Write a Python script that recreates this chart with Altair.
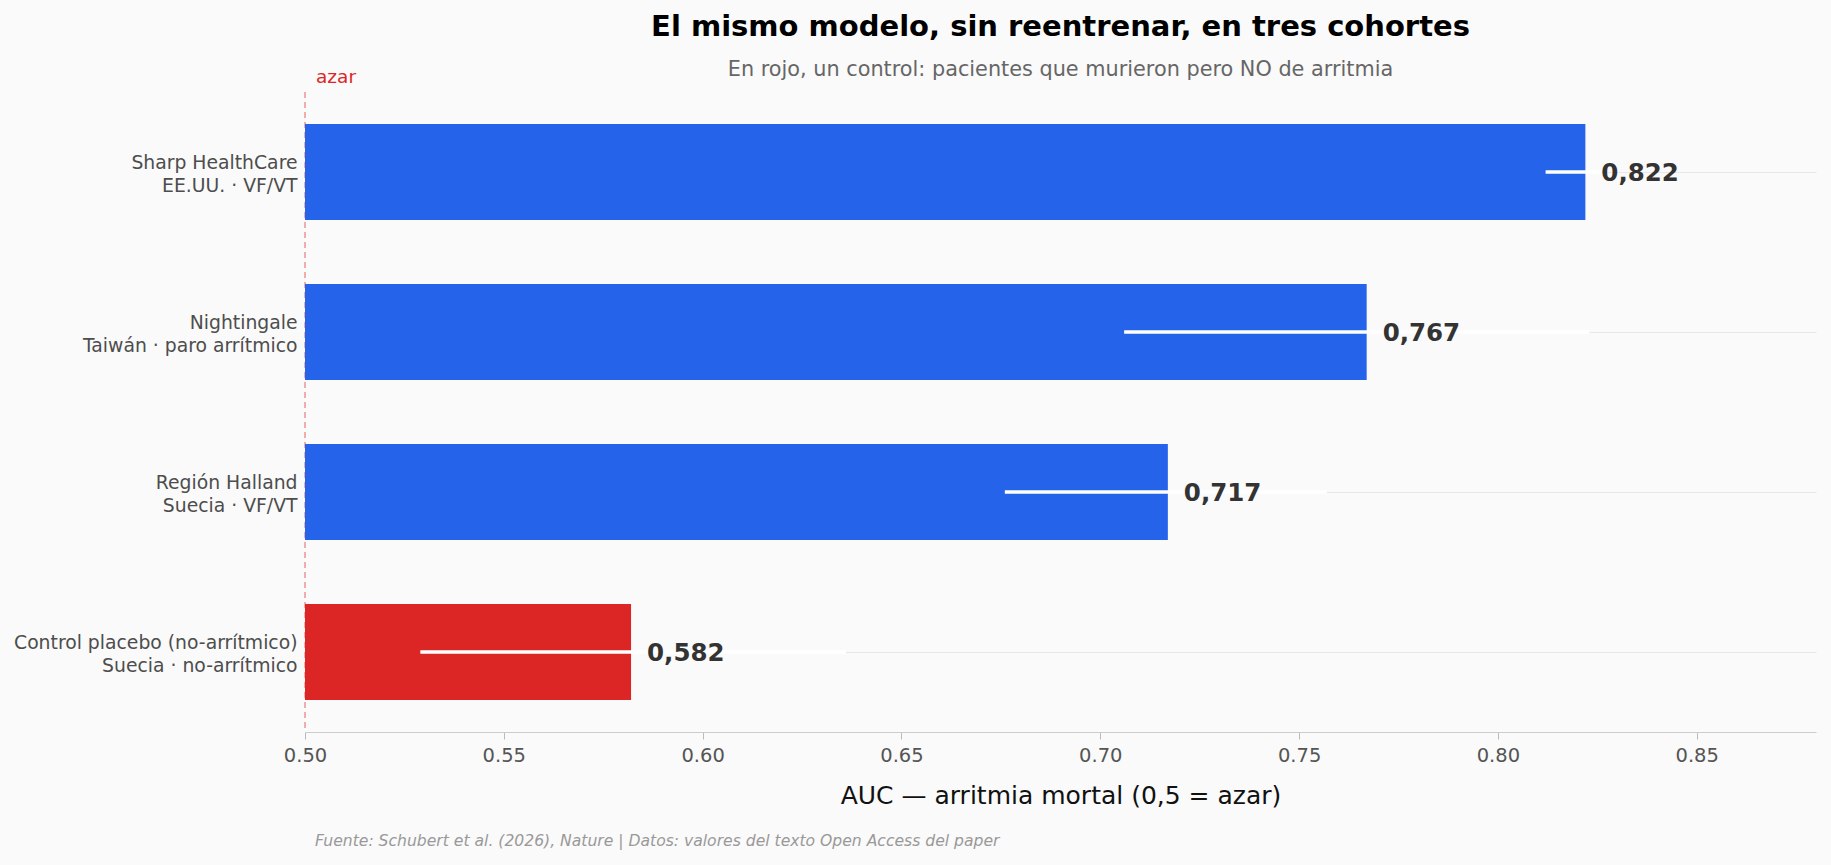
import altair as alt
import pandas as pd

# ---- datos ----
cohortes = [
    "Sharp HealthCare\nEE.UU. · VF/VT",
    "Nightingale\nTaiwán · paro arrítmico",
    "Región Halland\nSuecia · VF/VT",
    "Control placebo (no-arrítmico)\nSuecia · no-arrítmico",
]
auc = [0.822, 0.767, 0.717, 0.582]
ic_bajo = [0.812, 0.706, 0.676, 0.529]
ic_alto = [0.826, 0.823, 0.757, 0.636]
tipo = ["arritmia", "arritmia", "arritmia", "control"]
ticks_x = [0.50, 0.55, 0.60, 0.65, 0.70, 0.75, 0.80, 0.85]
azar = 0.5

titulo = "El mismo modelo, sin reentrenar, en tres cohortes"
subtitulo = "En rojo, un control: pacientes que murieron pero NO de arritmia"
titulo_x = "AUC — arritmia mortal (0,5 = azar)"
fuente = "Fuente: Schubert et al. (2026), Nature | Datos: valores del texto Open Access del paper"

df = pd.DataFrame({
    "cohorte": cohortes,
    "auc": auc,
    "ic_bajo": ic_bajo,
    "ic_alto": ic_alto,
    "tipo": tipo,
})

W, H = 1511, 640
FONT = "DejaVu Sans"

y_enc = alt.Y(
    "cohorte:N",
    sort=cohortes,
    scale=alt.Scale(paddingInner=0.4, paddingOuter=0.2),
    axis=alt.Axis(
        title=None,
        labelExpr="split(datum.label, '\\n')",
        labelFontSize=18.8,
        labelColor="#4d4d4d",
        labelLineHeight=22.5,
        labelPadding=8,
        labelBaseline="middle",
        labelOffset=-9,
        labelLimit=500,
        ticks=False,
        domain=False,
        grid=True,
        gridColor="#e8e8e8",
        gridWidth=1,
        bandPosition=0.5,
    ),
)

x_scale = alt.Scale(domain=[0.5, 0.88], nice=False, zero=False)

base = alt.Chart(df)

regla_azar = alt.Chart(alt.Data(values=[{}])).mark_rule(
    color="#dc2626", opacity=0.6, strokeDash=[6, 4], strokeWidth=1.2
).encode(x=alt.datum(azar, scale=x_scale))

barras = base.mark_bar().encode(
    x=alt.X(
        "auc:Q",
        scale=x_scale,
        axis=alt.Axis(
            values=ticks_x,
            format=".2f",
            title=titulo_x,
            titleFontSize=25,
            titleFontWeight="normal",
            titleColor="#111111",
            titleBaseline="alphabetic",
            titleY=71,
            labelFontSize=19.5,
            labelColor="#555555",
            labelPadding=7,
            labelFlush=False,
            tickColor="#bbbbbb",
            tickSize=7,
            domainColor="#cccccc",
            grid=False,
        ),
    ),
    x2=alt.datum(azar),
    y=y_enc,
    color=alt.Color(
        "tipo:N",
        scale=alt.Scale(domain=["arritmia", "control"], range=["#2563eb", "#dc2626"]),
        legend=None,
    ),
)

errores = base.mark_rule(color="white", strokeWidth=3.5).encode(
    x=alt.X("ic_bajo:Q", title=titulo_x),
    x2="ic_alto:Q",
    y=alt.Y("cohorte:N", sort=cohortes),
)

valores = base.transform_calculate(
    etiqueta="replace(format(datum.auc, '.3f'), '.', ',')"
).mark_text(
    align="left", baseline="middle", dx=16, dy=1.5, fontSize=24.5, fontWeight="bold", color="#333333"
).encode(
    x=alt.X("auc:Q", title=titulo_x),
    y=alt.Y("cohorte:N", sort=cohortes),
    text="etiqueta:N",
)

texto_azar = alt.Chart(alt.Data(values=[{}])).mark_text(
    text="azar", align="left", baseline="alphabetic", dx=11, fontSize=18.5, color="#dc2626"
).encode(x=alt.datum(azar), y=alt.value(-9))

t_titulo = alt.Chart(alt.Data(values=[{}])).mark_text(
    text=titulo, align="center", baseline="alphabetic", fontSize=29, fontWeight="bold", color="#000000"
).encode(x=alt.value(W / 2), y=alt.value(-56))

t_sub = alt.Chart(alt.Data(values=[{}])).mark_text(
    text=subtitulo, align="center", baseline="alphabetic", fontSize=20.8, color="#666666"
).encode(x=alt.value(W / 2), y=alt.value(-16))

t_fuente = alt.Chart(alt.Data(values=[{}])).mark_text(
    text=fuente, align="left", baseline="alphabetic", fontSize=15.6, fontStyle="italic", color="#999999"
).encode(x=alt.value(10), y=alt.value(754))

chart = alt.layer(
    regla_azar, barras, errores, valores, texto_azar, t_titulo, t_sub, t_fuente
).properties(
    width=W,
    height=H,
    autosize=alt.AutoSizeParams(type="none"),
    padding={"left": 305, "top": 92, "right": 15, "bottom": 133},
    background="#fafafa",
).configure(
    font=FONT,
).configure_view(
    stroke=None,
)

chart.save("out.html", embed_options={"renderer": "svg", "actions": False})
